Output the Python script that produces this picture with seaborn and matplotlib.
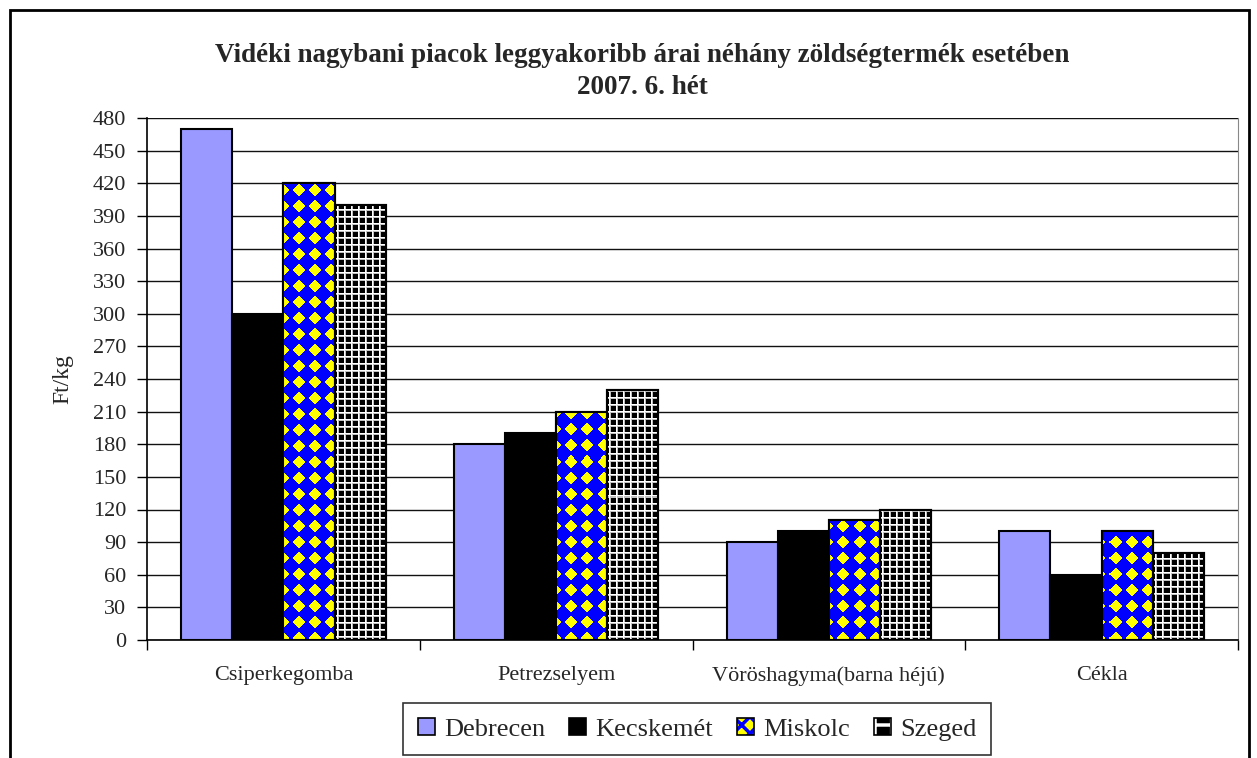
import matplotlib
matplotlib.use("Agg")
import matplotlib.pyplot as plt
from matplotlib.patches import Patch, Rectangle
from matplotlib.legend_handler import HandlerTuple
import numpy as np
import pandas as pd
import seaborn as sns

categories = ["Csiperkegomba", "Petrezselyem", "Vöröshagyma(barna héjú)", "Cékla"]
cities = ["Debrecen", "Kecskemét", "Miskolc", "Szeged"]
debrecen = [470, 180, 90, 100]
kecskemet = [300, 190, 100, 60]
miskolc = [420, 210, 110, 100]
szeged = [400, 230, 120, 80]

bar_colors = {"Debrecen": "#9999ff", "Kecskemét": "#000000",
              "Miskolc": "#0000ff", "Szeged": "#000000"}

rows = []
for city, vals in zip(cities, [debrecen, kecskemet, miskolc, szeged]):
    for cat, v in zip(categories, vals):
        rows.append({"Kategória": cat, "Város": city, "Ár": v})
df = pd.DataFrame(rows)


def diamond_texture(h, w):
    """Yellow diamonds on blue, 16 px lattice."""
    yy, xx = np.mgrid[0:h, 0:w]
    dx = np.abs((xx % 16) - 7.5)
    dy = np.abs((yy % 16) - 7.5)
    img = np.zeros((h, w, 3))
    img[...] = (0, 0, 1)
    img[dx + dy <= 6.5] = (1, 1, 0)
    return img


def grid_texture(h, w):
    """Black squares separated by thin white lines, 7 px lattice."""
    yy, xx = np.mgrid[0:h, 0:w]
    mx, my = xx % 7, yy % 7
    v = np.zeros((h, w))
    v[(mx == 1) | (my == 1)] = 0.75
    v[(mx == 0) | (my == 0)] = 1.0
    return np.dstack([v, v, v])


sns.set_style("white")
plt.rcParams["font.family"] = ["Liberation Serif", "DejaVu Serif"]
plt.rcParams["hatch.linewidth"] = 2.5

W, H = 1257, 758
fig = plt.figure(figsize=(W / 100, H / 100), dpi=100)
ax_box = [147, 118, 1238, 640]
ax = fig.add_axes([ax_box[0] / W, 1 - ax_box[3] / H,
                   (ax_box[2] - ax_box[0]) / W, (ax_box[3] - ax_box[1]) / H])

sns.barplot(
    data=df, x="Kategória", y="Ár", hue="Város", hue_order=cities,
    order=categories, palette=[bar_colors[c] for c in cities],
    width=0.75, gap=0, ax=ax, legend=False, saturation=1,
)

ax.set_ylim(0, 480)
ax.set_xlim(-0.5, len(categories) - 0.5)
xl, yl = ax.get_xlim(), ax.get_ylim()
pw, ph = ax_box[2] - ax_box[0], ax_box[3] - ax_box[1]
textures = {"Miskolc": diamond_texture(ph, pw), "Szeged": grid_texture(ph, pw)}

for container, city in zip(ax.containers, cities):
    for p in container.patches:
        p.set_edgecolor("black")
        p.set_linewidth(1.5)
        if city in textures:
            im = ax.imshow(textures[city], extent=(xl[0], xl[1], yl[0], yl[1]),
                           aspect="auto", interpolation="nearest",
                           zorder=p.get_zorder() + 0.05)
            im.set_clip_path(p)
            ax.add_patch(Rectangle(p.get_xy(), p.get_width(), p.get_height(),
                                   fill=False, ec="black", lw=1.5,
                                   zorder=p.get_zorder() + 0.1))

ax.set_xlim(xl)
ax.set_ylim(yl)
ax.set_yticks(np.arange(0, 481, 30))
ax.yaxis.grid(True, color="#111111", lw=1)
ax.set_axisbelow(True)
ax.tick_params(axis="y", direction="out", length=7, width=1, color="black",
               labelsize=16, pad=8, left=True)
ax.set_xticks(range(len(categories)))
ax.set_xticks(np.arange(-0.5, len(categories), 1), minor=True)
ax.tick_params(axis="x", which="major", length=0, labelsize=16, pad=19)
ax.tick_params(axis="x", which="minor", direction="out", length=7, width=1,
               color="black", bottom=True)
ax.set_xlabel("")
ax.set_ylabel("Ft/kg", fontsize=17, labelpad=14)
for side in ["left", "bottom"]:
    ax.spines[side].set_color("black")
    ax.spines[side].set_linewidth(1.2)
ax.spines["top"].set_visible(False)
ax.spines["right"].set_color("#888888")

fig.text(642 / W, 1 - 55 / H,
         "Vidéki nagybani piacok leggyakoribb árai néhány zöldségtermék esetében",
         ha="center", va="center", fontsize=19.5, fontweight="bold")
fig.text(642 / W, 1 - 88 / H, "2007. 6. hét",
         ha="center", va="center", fontsize=19.5, fontweight="bold")

outline = Patch(fill=False, edgecolor="black", lw=1.2)
handles = [
    Patch(facecolor=bar_colors["Debrecen"], edgecolor="black", lw=1.2),
    Patch(facecolor=bar_colors["Kecskemét"], edgecolor="black", lw=1.2),
    (Patch(facecolor="#ffff00", edgecolor="#0000ff", hatch="xx", lw=0), outline),
    (Patch(facecolor="#000000", edgecolor="#ffffff", hatch="+", lw=0), outline),
]
leg = fig.legend(handles, cities, loc="upper center",
                 bbox_to_anchor=(697 / W, 1 - 703 / H), ncol=4,
                 fontsize=19, frameon=True, fancybox=False, edgecolor="black",
                 handlelength=0.65, handleheight=0.65, handletextpad=0.35,
                 columnspacing=0.9, borderpad=0.55, borderaxespad=0,
                 handler_map={tuple: HandlerTuple(ndivide=1)})
leg.get_frame().set_linewidth(1.2)

fig.patches.append(Rectangle((10 / W, -0.05), (1249 - 10) / W, 1.05 - 10 / H,
                             transform=fig.transFigure, fill=False,
                             ec="black", lw=2))

fig.savefig("out.png", dpi=100)
